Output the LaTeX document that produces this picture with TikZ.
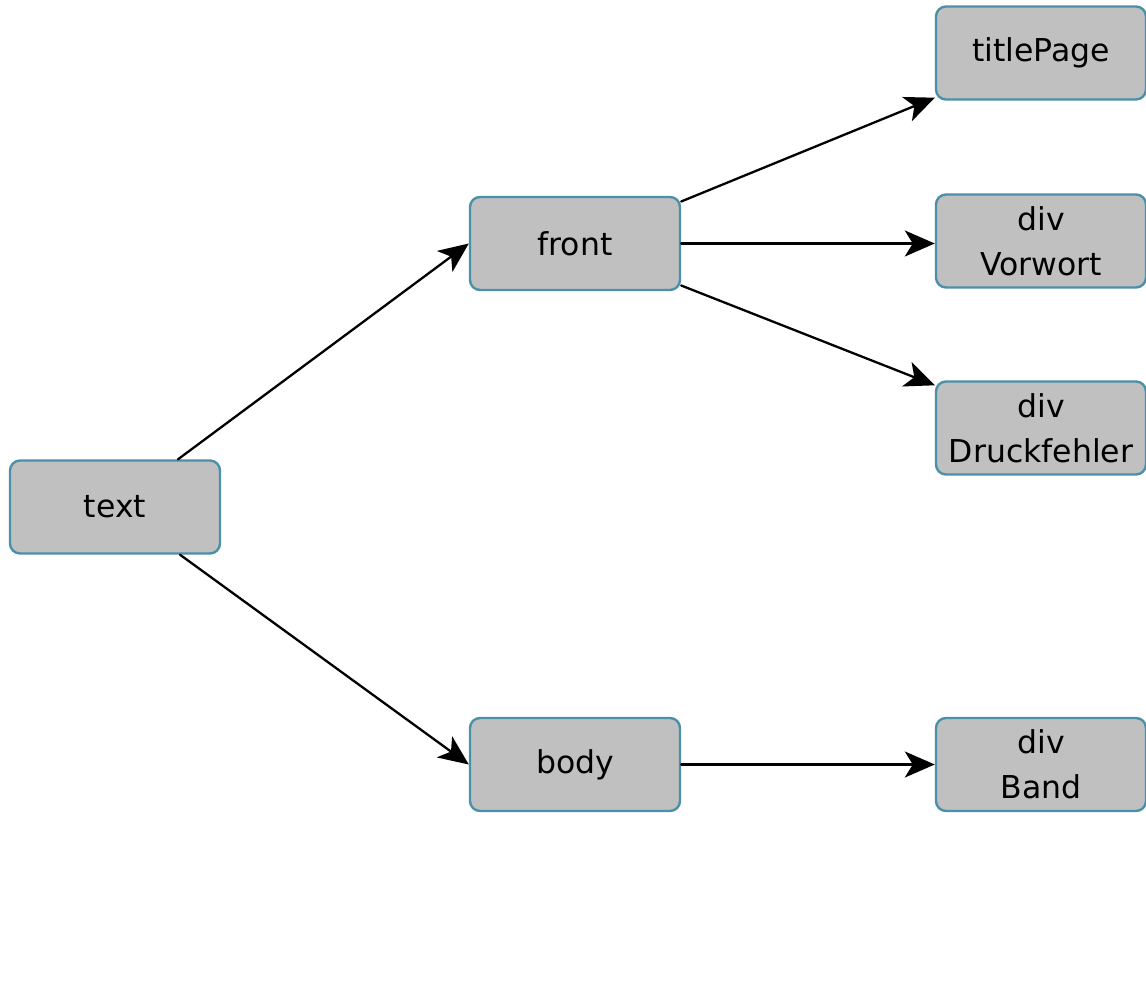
\documentclass[tikz,border=0pt]{standalone}
\usepackage{fontspec}
\setmainfont{DejaVu Sans}
\usetikzlibrary{arrows.meta,calc,positioning}

\definecolor{elemblue}{HTML}{4A90A8}
\definecolor{elemgray}{HTML}{C0C0C0}

\begin{document}
\begin{tikzpicture}[x=1pt, y=-1pt, >={Stealth[length=30pt,width=26pt,inset=8pt]},
		line cap=round, line join=round,
		elem/.style={draw=elemblue, line width=2.4pt, fill=elemgray, rounded corners=10pt,
			minimum width=210pt, minimum height=93pt, inner sep=0pt, align=center,
			font=\fontsize{31.5}{45}\selectfont},
		link/.style={->, line width=2.3pt}]
	
	% page frame (pixel units of the reference)
	\useasboundingbox (0,0) rectangle (1146,1000);
	
	% root, its two children, and the leaves
	\node[elem] (text) at (115,507) {text};
	\node[elem] (front) at (575,243.5) {front};
	\node[elem] (body) at (575,764.5) {body};
	
	\node[elem] (title) at (1041,53) {titlePage};
	\node[elem] (vorwort) at (1041,241) {div\\Vorwort};
	\node[elem] (druck) at (1041,428) {div\\Druckfehler};
	\node[elem] (band) at (1041,764.5) {div\\Band};
	
	% text -> front, body
	\draw[link] ($(text.north)+(63,0)$) -- (front.west);
	\draw[link] ($(text.south)+(65,0)$) -- (body.west);
	
	% front -> leaves
	\draw[link] ($(front.east)+(0,-42)$) -- ($(title.south west)+(0,-3)$);
	\draw[link] (front.east) -- (front.east -| vorwort.west);
	\draw[link] ($(front.east)+(0,42)$) -- ($(druck.north west)+(0,5)$);
	
	% body -> leaf
	\draw[link] (body.east) -- (band.west);
	
\end{tikzpicture}
\end{document}
